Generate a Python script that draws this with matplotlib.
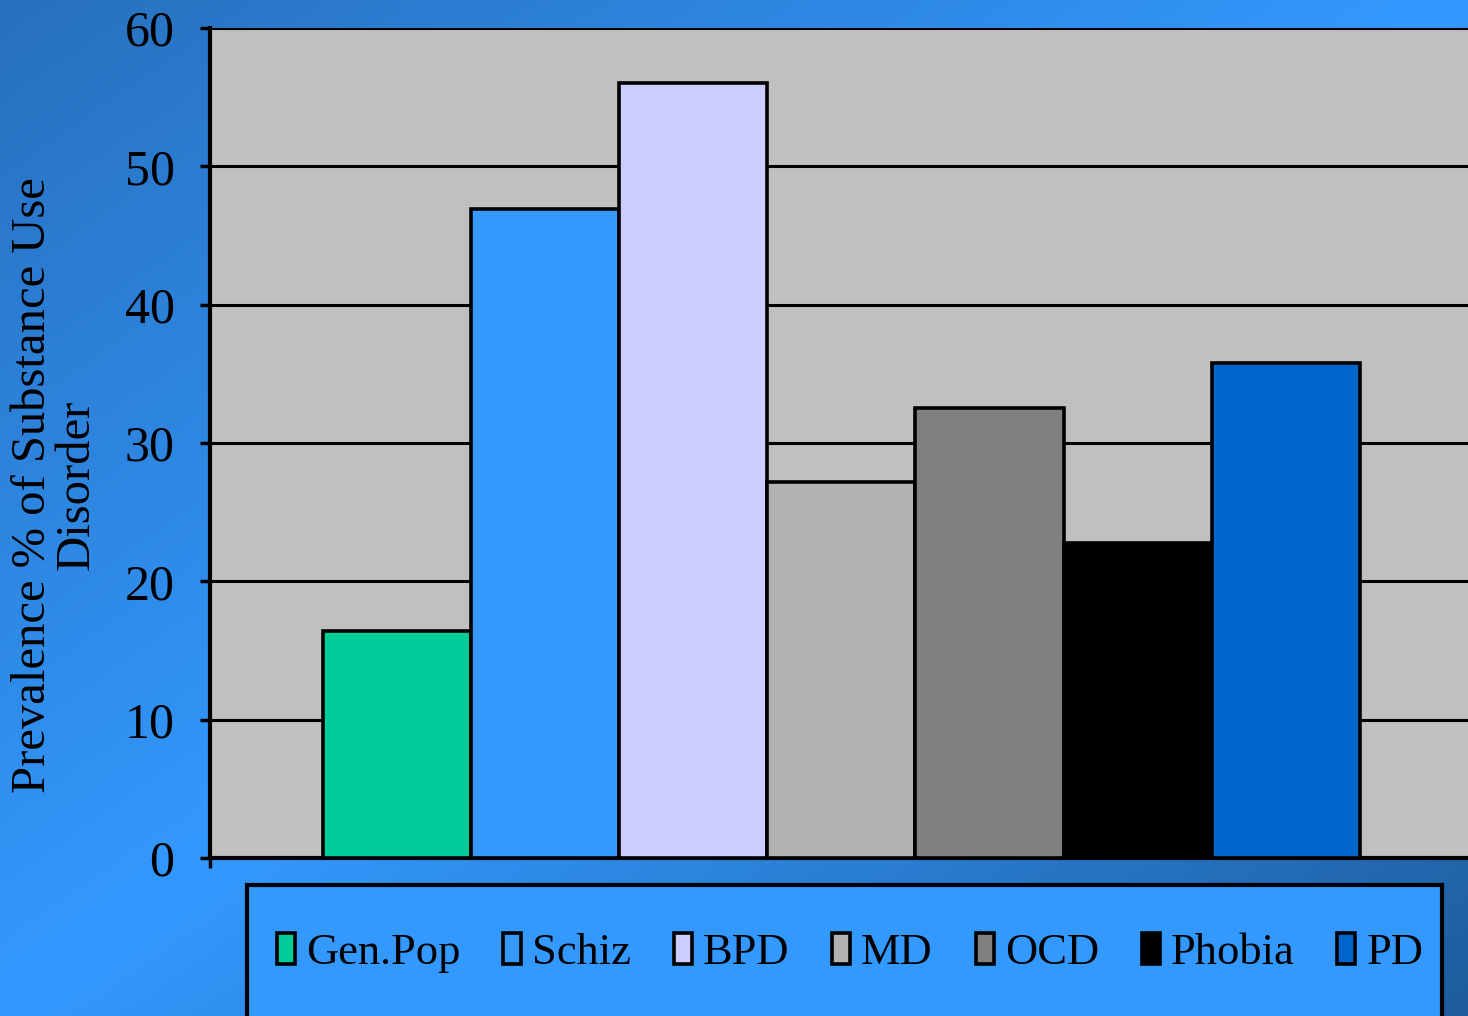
import numpy as np
import matplotlib
matplotlib.use('Agg')
from matplotlib import pyplot as plt
from matplotlib.colors import LinearSegmentedColormap
from matplotlib.patches import Rectangle

plt.rcParams['font.family'] = ['Liberation Serif', 'DejaVu Serif']

# data
groups = ['Gen.Pop', 'Schiz', 'BPD', 'MD', 'OCD', 'Phobia', 'PD']
prevalence = [16.4, 46.9, 56.0, 27.2, 32.5, 22.8, 35.8]
bar_colors = ['#00CC99', '#3399FF', '#CCCCFF', '#B2B2B2', '#808080',
              '#000000', '#0066CC']
y_ticks = [0, 10, 20, 30, 40, 50, 60]

W, H = 1468, 1016
fig = plt.figure(figsize=(W / 100., H / 100.), dpi=100)

# diagonal blue gradient behind everything
bg = fig.add_axes([0, 0, 1, 1], zorder=-10)
gx, gy = np.meshgrid(np.linspace(0, 1, 300), np.linspace(0, 1, 200))
t = gx + gy - 1.0
cmap = LinearSegmentedColormap.from_list(
    'bgblue', [(0.0, '#2870BE'), (0.5, '#3399FF'), (1.0, '#1E5C9C')])
bg.imshow((t + 1) / 2., cmap=cmap, aspect='auto', extent=[0, 1, 1, 0],
          vmin=0, vmax=1)
bg.set_axis_off()

ax = fig.add_axes([210. / W, 1 - 858. / H, 1 - 210. / W, (858. - 28.) / H])
ax.set_facecolor('#C0C0C0')

x = np.arange(len(groups))
bars = ax.bar(x, prevalence, width=1.0, color=bar_colors,
              edgecolor='black', linewidth=2.6, zorder=3)
for b, lab in zip(bars, groups):
    b.set_label(lab)

ax.set_xlim(-1.263, 7.231)
ax.set_ylim(0, 60)
ax.set_yticks(y_ticks)
ax.set_yticklabels([str(v) for v in y_ticks], fontsize=36)
ax.set_xticks([-1.263])
ax.set_xticklabels([''])
ax.tick_params(axis='both', direction='out', length=7.5, width=2.5,
               color='black', pad=18)
ax.grid(axis='y', color='black', linewidth=2.2)
ax.set_axisbelow(True)
for side in ['top', 'right']:
    ax.spines[side].set_visible(False)
for side in ['left', 'bottom']:
    ax.spines[side].set_linewidth(3)
    ax.spines[side].set_color('black')

fig.text(0.0375, 0.523, 'Prevalence % of Substance Use\nDisorder',
         rotation=90, ha='center', va='center', multialignment='center',
         fontsize=35, linespacing=1.0)

# legend box (runs off the bottom edge like the original)
box = Rectangle((247. / W, -0.05), (1442. - 247.) / W, 0.05 + 1 - 885. / H,
                transform=fig.transFigure, facecolor='#3399FF',
                edgecolor='black', linewidth=3, zorder=1)
fig.patches.append(box)

handles = [bars[i] for i in range(len(groups))]
leg = fig.legend(handles, groups, loc='center', ncol=7, mode='expand',
                 bbox_to_anchor=(268. / W, 1 - 953. / H, (1432. - 268.) / W, 0),
                 fontsize=32, frameon=False, borderpad=0.2,
                 handlelength=0.4, handleheight=0.68, handletextpad=0.25,
                 columnspacing=0.5, borderaxespad=0)
leg.set_zorder(2)

fig.savefig('out.png', dpi=100)
